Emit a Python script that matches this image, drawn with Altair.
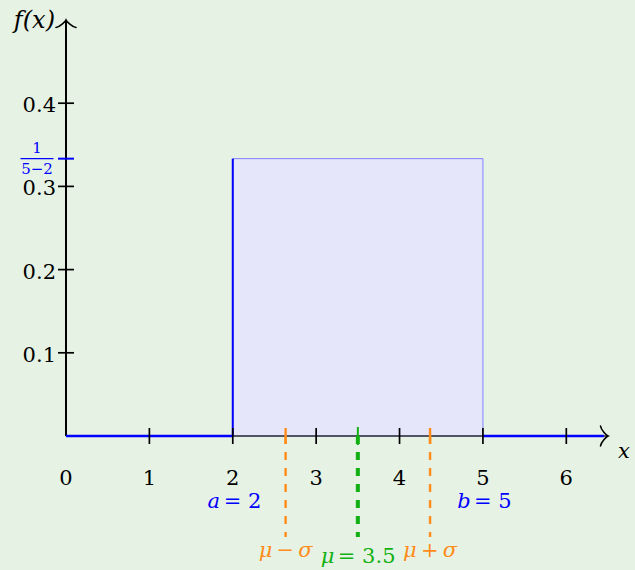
import math
import altair as alt
import pandas as pd

# Continuous uniform distribution on [a, b]
a, b = 2, 5
density = 1 / (b - a)
mu = (a + b) / 2
sigma = (b - a) / math.sqrt(12)

x_max, y_max = 6.5, 0.5
x_ticks = [1, 2, 3, 4, 5, 6]
x_label_pos = [0, 1, 2, 3, 4, 5, 6]
x_tick_labels = ["0", "1", "2", "3", "4", "5", "6"]
y_ticks = [0.1, 0.2, 0.3, 0.4]
y_tick_labels = ["0.1", "0.2", "0.3", "0.4"]

BG = "#e6f3e4"
FILL = "#e6e6fb"
BLUE = "#0000ff"
ORANGE = "#ff8c1a"
GREEN = "#12b012"
SERIF = "DejaVu Serif"
FS = 21
THIN = "\u2009"

xs = alt.Scale(domain=[0, x_max], nice=False, zero=False)
ys = alt.Scale(domain=[0, y_max], nice=False, zero=False)


def X(f="x"):
    return alt.X(f"{f}:Q", scale=xs, axis=None)


def Y(f="y"):
    return alt.Y(f"{f}:Q", scale=ys, axis=None)


def df(**cols):
    return pd.DataFrame(cols)


# density block
block = alt.Chart(df(x=[a], x2=[b], y=[0], y2=[density])).mark_rect(
    fill=FILL, stroke="#8080ff", strokeWidth=1
).encode(x=X(), x2="x2:Q", y=Y(), y2="y2:Q")

left_edge = alt.Chart(df(x=[a], y=[0], y2=[density])).mark_rule(
    color=BLUE, strokeWidth=2
).encode(x=X(), y=Y(), y2="y2:Q")

# axes
y_axis = alt.Chart(df(x=[0], y=[0], y2=[y_max])).mark_rule(
    color="black", strokeWidth=2
).encode(x=X(), y=Y(), y2="y2:Q")
x_axis = alt.Chart(df(x=[0], x2=[x_max], y=[0])).mark_rule(
    color="#333333", strokeWidth=1.6
).encode(x=X(), x2="x2:Q", y=Y())

# zero density outside the support
outside = alt.Chart(df(x=[0, b], x2=[a, x_max - 0.05], y=[0, 0])).mark_rule(
    color=BLUE, strokeWidth=2.6
).encode(x=X(), x2="x2:Q", y=Y())

x_tick_marks = alt.Chart(df(x=x_ticks, y=[0] * len(x_ticks))).mark_tick(
    orient="vertical", size=16, thickness=1.7, color="black", opacity=1
).encode(x=X(), y=Y())
y_tick_marks = alt.Chart(df(x=[0] * len(y_ticks), y=y_ticks)).mark_tick(
    orient="horizontal", size=16, thickness=1.7, color="black", opacity=1
).encode(x=X(), y=Y())
density_tick = alt.Chart(df(x=[0], y=[density])).mark_tick(
    orient="horizontal", size=16, thickness=2, color=BLUE, opacity=1
).encode(x=X(), y=Y())

sd_ticks = alt.Chart(df(x=[mu - sigma, mu + sigma], y=[0, 0])).mark_tick(
    orient="vertical", size=16, thickness=2.4, color=ORANGE, opacity=1
).encode(x=X(), y=Y())
mu_tick = alt.Chart(df(x=[mu], y=[0])).mark_tick(
    orient="vertical", size=18, thickness=2, color=GREEN, opacity=1
).encode(x=X(), y=Y())

sd_lines = alt.Chart(df(x=[mu - sigma, mu + sigma], y=[0, 0])).mark_rule(
    color=ORANGE, strokeWidth=2.4, strokeDash=[8, 8]
).encode(x=X(), y=Y(), y2=alt.value(517))
mu_line = alt.Chart(df(x=[mu], y=[0])).mark_rule(
    color=GREEN, strokeWidth=4, strokeDash=[8, 8]
).encode(x=X(), y=Y(), y2=alt.value(517))

# tick labels
x_labels = alt.Chart(
    df(x=x_label_pos, y=[0] * len(x_label_pos), t=x_tick_labels)
).mark_text(font=SERIF, fontSize=FS, align="center", baseline="alphabetic",
            dy=49, color="black").encode(x=X(), y=Y(), text="t:N")
y_labels = alt.Chart(
    df(x=[0] * len(y_ticks), y=y_ticks, t=y_tick_labels)
).mark_text(font=SERIF, fontSize=FS, align="right", baseline="alphabetic",
            dx=-10, dy=9, color="black").encode(x=X(), y=Y(), text="t:N")

# 1/(b-a) fraction next to the y axis
frac_num = alt.Chart(df(x=[0], y=[density], t=["1"])).mark_text(
    font=SERIF, fontSize=15, align="center", baseline="alphabetic",
    dx=-29, dy=-6, color=BLUE
).encode(x=X(), y=Y(), text="t:N")
frac_den = alt.Chart(df(x=[0], y=[density], t=[f"{b}\u2212{a}"])).mark_text(
    font=SERIF, fontSize=15, align="center", baseline="alphabetic",
    dx=-29, dy=15, color=BLUE
).encode(x=X(), y=Y(), text="t:N")
frac_bar = alt.Chart(df(x=[0], y=[density])).mark_tick(
    orient="horizontal", size=33, thickness=1.3, xOffset=-29, color=BLUE, opacity=1
).encode(x=X(), y=Y())


def label(x, text, color, dx, dy, italic=False, align="center"):
    return alt.Chart(df(x=[x], y=[0], t=[text])).mark_text(
        font=SERIF, fontSize=FS, align=align, baseline="alphabetic",
        dx=dx, dy=dy, color=color, fontStyle="italic" if italic else "normal"
    ).encode(x=X(), y=Y(), text="t:N")


a_lab = label(a, "a", BLUE, -19, 72, italic=True) + label(a, f"= {a}", BLUE, -9, 72, align="left")
b_lab = label(b, "b", BLUE, -19, 72, italic=True) + label(b, f"= {b}", BLUE, -9, 72, align="left")
mu_lab = label(mu, "\u03bc", GREEN, -37, 127, italic=True, align="left") + \
    label(mu, f"= {mu:g}", GREEN, -20, 127, align="left")
lo_lab = label(mu - sigma, f"\u03bc{THIN}\u2212{THIN}\u03c3", ORANGE, 0, 121, italic=True)
hi_lab = label(mu + sigma, f"\u03bc{THIN}+{THIN}\u03c3", ORANGE, 0, 121, italic=True)

f_lab = alt.Chart(df(x=[0], y=[y_max], t=["f(x)"])).mark_text(
    font=SERIF, fontSize=24, fontStyle="italic", align="right",
    baseline="alphabetic", dx=-11, dy=8, color="black"
).encode(x=X(), y=Y(), text="t:N")
x_lab = label(x_max, "x", "black", 16, 22, italic=True)

# arrow heads
up_head = "M -1 0.75 C -0.625 0.7 -0.0625 0.15 0 0 C 0.0625 0.15 0.625 0.7 1 0.75"
right_head = "M -0.75 -1 C -0.7 -0.625 -0.15 -0.0625 0 0 C -0.15 0.0625 -0.7 0.625 -0.75 1"
up_arrow = alt.Chart(df(x=[0], y=[y_max])).mark_point(
    shape=up_head, size=400, filled=False, stroke="black", strokeWidth=1.6,
    opacity=1, strokeCap="round"
).encode(x=X(), y=Y())
right_arrow = alt.Chart(df(x=[x_max], y=[0])).mark_point(
    shape=right_head, size=400, filled=False, stroke="black", strokeWidth=1.6,
    opacity=1, strokeCap="round"
).encode(x=X(), y=Y())

chart = alt.layer(
    block, x_axis, y_axis, left_edge, outside,
    x_tick_marks, y_tick_marks, density_tick,
    sd_lines, mu_line, sd_ticks, mu_tick,
    x_labels, y_labels, frac_num, frac_den, frac_bar,
    a_lab, b_lab, mu_lab, lo_lab, hi_lab, f_lab, x_lab,
    up_arrow, right_arrow,
).properties(
    width=542, height=416, background=BG,
    autosize=alt.AutoSizeParams(type="none"),
    padding={"left": 66, "top": 20, "right": 27, "bottom": 134},
).configure_view(stroke=None)

chart.save("out.html", embed_options={"renderer": "svg", "actions": False})
